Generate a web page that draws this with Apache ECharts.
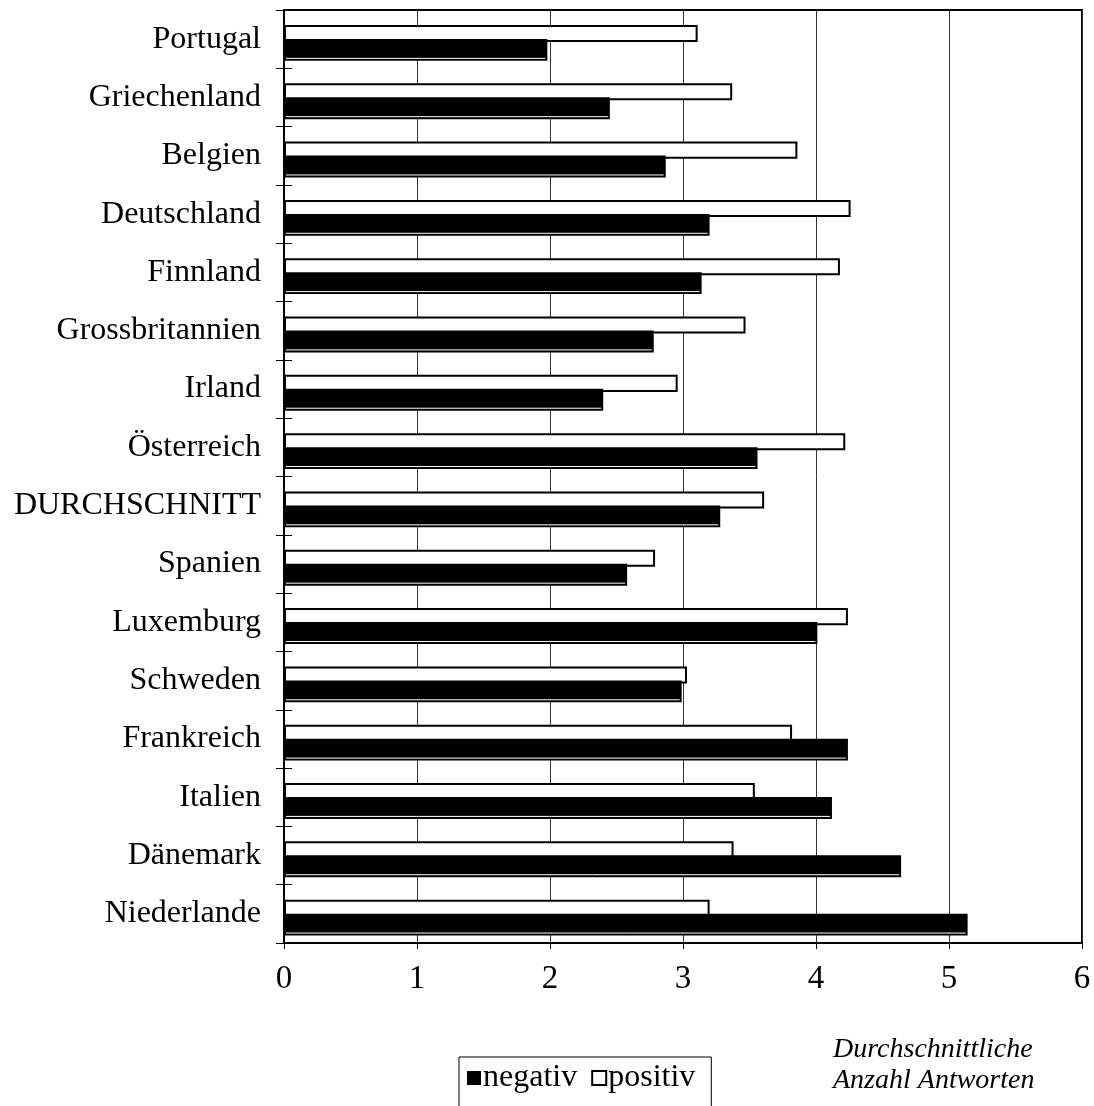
<!DOCTYPE html>
<html>
<head>
<meta charset="utf-8">
<style>
  html, body { margin: 0; padding: 0; background: #fff; }
  #chart { width: 1094px; height: 1106px; }
</style>
<script src="https://cdn.jsdelivr.net/npm/echarts@6/dist/echarts.min.js"></script>
</head>
<body>
<div id="chart"></div>
<script>
// Länder (von oben nach unten)
const categories = ['Portugal', 'Griechenland', 'Belgien', 'Deutschland', 'Finnland',
  'Grossbritannien', 'Irland', 'Österreich', 'DURCHSCHNITT', 'Spanien', 'Luxemburg',
  'Schweden', 'Frankreich', 'Italien', 'Dänemark', 'Niederlande'];

// Durchschnittliche Anzahl positiver Antworten
const positiv = [3.11, 3.37, 3.86, 4.26, 4.18, 3.47, 2.96, 4.22, 3.61, 2.79, 4.24,
  3.03, 3.82, 3.54, 3.38, 3.20];

// Durchschnittliche Anzahl negativer Antworten
const negativ = [1.98, 2.45, 2.87, 3.20, 3.14, 2.78, 2.40, 3.56, 3.28, 2.58, 4.01,
  2.99, 4.24, 4.12, 4.64, 5.14];

// x-axis tick labels
const xTicks = [0, 1, 2, 3, 4, 5, 6];

const FONT = '"Liberation Serif", "Times New Roman", serif';

const chart = echarts.init(document.getElementById('chart'), null, { renderer: 'canvas' });

// white bar with black outline, sitting in the upper part of the band
function renderPositiv(params, api) {
  const i = api.value(1);
  const p0 = api.coord([0, i]);
  const p1 = api.coord([api.value(0), i]);
  const bh = api.size([0, 1])[1];
  const top = p0[1] - 0.243 * bh;
  const h = 0.292 * bh;
  return {
    type: 'rect',
    shape: { x: p0[0] + 1, y: top + 1, width: p1[0] - p0[0] - 2, height: h - 2 },
    style: { fill: '#fff', stroke: '#000', lineWidth: 2 }
  };
}

// solid black bar with a thin light seam near its lower edge
function renderNegativ(params, api) {
  const i = api.value(1);
  const p0 = api.coord([0, i]);
  const p1 = api.coord([api.value(0), i]);
  const bh = api.size([0, 1])[1];
  const top = p0[1] - 0.003 * bh;
  const h = 0.375 * bh;
  const w = p1[0] - p0[0];
  return {
    type: 'group',
    children: [
      { type: 'rect', shape: { x: p0[0], y: top, width: w, height: h }, style: { fill: '#000' } },
      { type: 'line',
        shape: { x1: p0[0] + 2, y1: top + h - 2.5, x2: p1[0] - 2, y2: top + h - 2.5 },
        style: { stroke: '#fff', lineWidth: 1 } }
    ]
  };
}

const option = {
  backgroundColor: '#fff',
  animation: false,
  textStyle: { fontFamily: FONT, color: '#000' },
  grid: {
    left: 284, right: 12, top: 10, bottom: 163,
    show: true, borderColor: '#000', borderWidth: 2, backgroundColor: 'transparent'
  },
  xAxis: {
    type: 'value',
    min: 0, max: 6, interval: 1,
    axisLine: { show: true, lineStyle: { color: '#000', width: 2 } },
    axisTick: { show: true, length: 6, lineStyle: { color: '#000', width: 1 } },
    axisLabel: {
      fontFamily: FONT, fontSize: 33, color: '#000', margin: 20,
      formatter: v => (xTicks.indexOf(v) >= 0 ? String(v) : '')
    },
    splitLine: { show: true, lineStyle: { color: '#333', width: 1 } }
  },
  yAxis: [
    {
      type: 'category',
      data: categories,
      inverse: true,
      axisLine: { show: true, lineStyle: { color: '#000', width: 2 } },
      axisTick: { show: true, length: 8, lineStyle: { color: '#000', width: 1 } },
      axisLabel: { fontFamily: FONT, fontSize: 32, color: '#000', margin: 23 },
      splitLine: { show: false }
    },
    {
      // inner half of the category ticks, so they cross the axis line
      type: 'category',
      data: categories,
      inverse: true,
      position: 'left',
      axisLine: { show: false },
      axisTick: { show: true, inside: true, length: 8, lineStyle: { color: '#000', width: 1 } },
      axisLabel: { show: false },
      splitLine: { show: false }
    }
  ],
  legend: {
    left: 459, top: 1057,
    orient: 'horizontal',
    itemWidth: 14, itemHeight: 14, itemGap: 14,
    padding: [5, 16, 60, 8],
    borderColor: '#000', borderWidth: 1,
    textStyle: { fontFamily: FONT, fontSize: 32, color: '#000', padding: [0, 0, 0, -3] },
    data: [
      { name: 'negativ', icon: 'rect', itemStyle: { color: '#000', borderWidth: 0 } },
      { name: 'positiv', icon: 'rect', itemStyle: { color: '#fff', borderColor: '#000', borderWidth: 2 } }
    ]
  },
  title: {
    text: 'Durchschnittliche\nAnzahl Antworten',
    left: 833, top: 1034,
    padding: 0,
    textStyle: { fontFamily: FONT, fontSize: 28, fontStyle: 'italic', fontWeight: 'normal',
      color: '#000', lineHeight: 31 }
  },
  series: [
    {
      name: 'positiv',
      type: 'custom',
      renderItem: renderPositiv,
      encode: { x: 0, y: 1 },
      itemStyle: { color: '#fff', borderColor: '#000', borderWidth: 2 },
      data: positiv.map((v, i) => [v, i]),
      z: 2
    },
    {
      name: 'negativ',
      type: 'custom',
      renderItem: renderNegativ,
      encode: { x: 0, y: 1 },
      itemStyle: { color: '#000' },
      data: negativ.map((v, i) => [v, i]),
      z: 3
    }
  ]
};

chart.setOption(option);
</script>
</body>
</html>
